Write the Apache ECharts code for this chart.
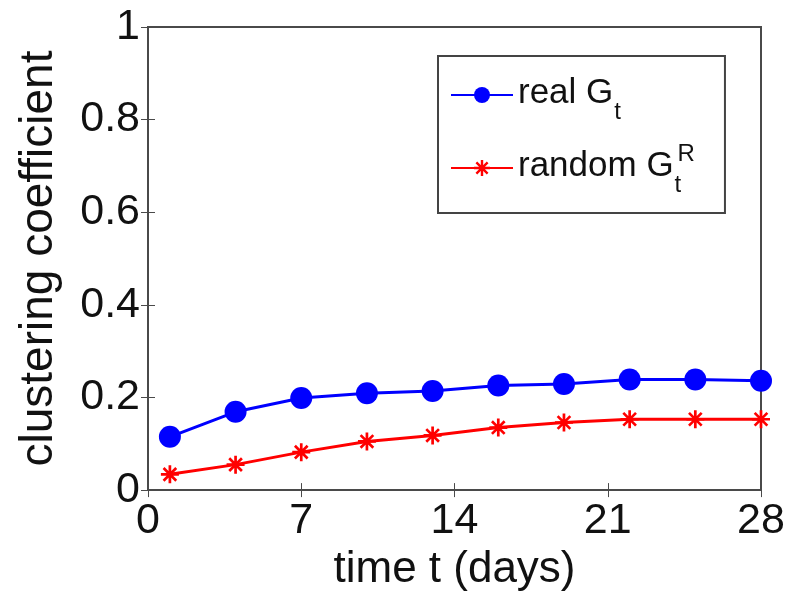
<!DOCTYPE html>
<html>
<head>
<meta charset="utf-8">
<script src="https://cdn.jsdelivr.net/npm/echarts@6/dist/echarts.min.js"></script>
<style>
  html, body { margin: 0; padding: 0; background: #fff; }
  #chart { width: 802px; height: 597px; }
</style>
</head>
<body>
<div id="chart"></div>
<script>
// data
var days = [1, 4, 7, 10, 13, 16, 19, 22, 25, 28];
var realG = [0.115, 0.169, 0.199, 0.209, 0.214, 0.226, 0.229, 0.239, 0.239, 0.236];
var randomG = [0.034, 0.055, 0.082, 0.105, 0.118, 0.135, 0.146, 0.153, 0.153, 0.153];
var xTicks = [0, 7, 14, 21, 28];
var yTicks = [0, 0.2, 0.4, 0.6, 0.8, 1];

// asterisk marker like matlab '*'
var starPath = 'path://M0 8.5L20 8.5L20 11.5L0 11.5Z M8.5 0L11.5 0L11.5 20L8.5 20Z ' +
  'M1.9 4L4 1.9L18.1 16L16 18.1Z M16 1.9L18.1 4L4 18.1L1.9 16Z';

var font = 'Liberation Sans, Arial, Helvetica, sans-serif';
var axisColor = '#4a4a4a';
var txt = '#111';

function pairs(xs, ys) {
  return xs.map(function (x, i) { return [x, ys[i]]; });
}

var chart = echarts.init(document.getElementById('chart'));

// every token box is 60px tall, so sub/superscripts are placed only by padding
var tokens = {
  b: { fontSize: 35, fontFamily: font, color: txt, lineHeight: 38, padding: [9, 0, 13, 0] },
  s: { fontSize: 24, fontFamily: font, color: txt, lineHeight: 24, padding: [35, 0, 1, 1] },
  st: { fontSize: 24, fontFamily: font, color: txt, lineHeight: 24, padding: [35, 0, 1, 1], width: 3, align: 'left' },
  sp: { fontSize: 24, fontFamily: font, color: txt, lineHeight: 24, padding: [4, 0, 32, 0] }
};

var option = {
  animation: false,
  textStyle: { fontFamily: font },
  grid: {
    left: 148,
    right: 41,
    top: 27,
    bottom: 102,
    show: true,
    borderColor: axisColor,
    borderWidth: 2
  },
  legend: {
    orient: 'vertical',
    left: 438,
    top: 56,
    padding: [9, 30, 15, 12],
    itemGap: 13,
    itemWidth: 62,
    itemHeight: 20,
    borderColor: '#444',
    borderWidth: 2,
    backgroundColor: '#fff',
    data: ['real', 'random'],
    formatter: function (name) {
      if (name === 'real') return '{b|real G}{s|t}';
      return '{b|random G}{st|t}{sp|R}';
    },
    textStyle: {
      color: txt,
      fontFamily: font,
      rich: tokens
    }
  },
  xAxis: [{
    type: 'value',
    min: xTicks[0],
    max: xTicks[xTicks.length - 1],
    interval: 7,
    name: 'time t (days)',
    nameLocation: 'middle',
    nameGap: 50,
    nameTextStyle: { fontSize: 44, color: txt, fontFamily: font },
    axisLine: { show: true, lineStyle: { color: axisColor, width: 2 } },
    axisTick: { show: true, inside: true, length: 7, lineStyle: { color: axisColor } },
    axisLabel: { fontSize: 43, color: txt, margin: 10 },
    splitLine: { show: false }
  }, {
    type: 'value',
    position: 'top',
    min: xTicks[0],
    max: xTicks[xTicks.length - 1],
    interval: 7,
    axisLine: { show: true, lineStyle: { color: axisColor, width: 2 } },
    axisTick: { show: true, inside: true, length: 7, lineStyle: { color: axisColor } },
    axisLabel: { show: false },
    splitLine: { show: false }
  }],
  yAxis: [{
    type: 'value',
    min: yTicks[0],
    max: yTicks[yTicks.length - 1],
    interval: 0.2,
    name: 'clustering coefficient',
    nameLocation: 'middle',
    nameGap: 86,
    nameTextStyle: { fontSize: 46, color: txt, fontFamily: font },
    axisLine: { show: true, lineStyle: { color: axisColor, width: 2 } },
    axisTick: { show: true, inside: true, length: 7, lineStyle: { color: axisColor } },
    axisLabel: { fontSize: 43, color: txt, margin: 8 },
    splitLine: { show: false }
  }, {
    type: 'value',
    position: 'right',
    min: yTicks[0],
    max: yTicks[yTicks.length - 1],
    interval: 0.2,
    axisLine: { show: true, lineStyle: { color: axisColor, width: 2 } },
    axisTick: { show: true, inside: true, length: 7, lineStyle: { color: axisColor } },
    axisLabel: { show: false },
    splitLine: { show: false }
  }],
  series: [{
    name: 'real',
    type: 'line',
    data: pairs(days, realG),
    symbol: 'circle',
    symbolSize: 22,
    lineStyle: { color: '#0000ff', width: 3 },
    itemStyle: { color: '#0000ff' }
  }, {
    name: 'random',
    type: 'line',
    data: pairs(days, randomG),
    symbol: starPath,
    symbolSize: 18,
    lineStyle: { color: '#ff0000', width: 3 },
    itemStyle: { color: '#ff0000' }
  }]
};

chart.setOption(option);
</script>
</body>
</html>
